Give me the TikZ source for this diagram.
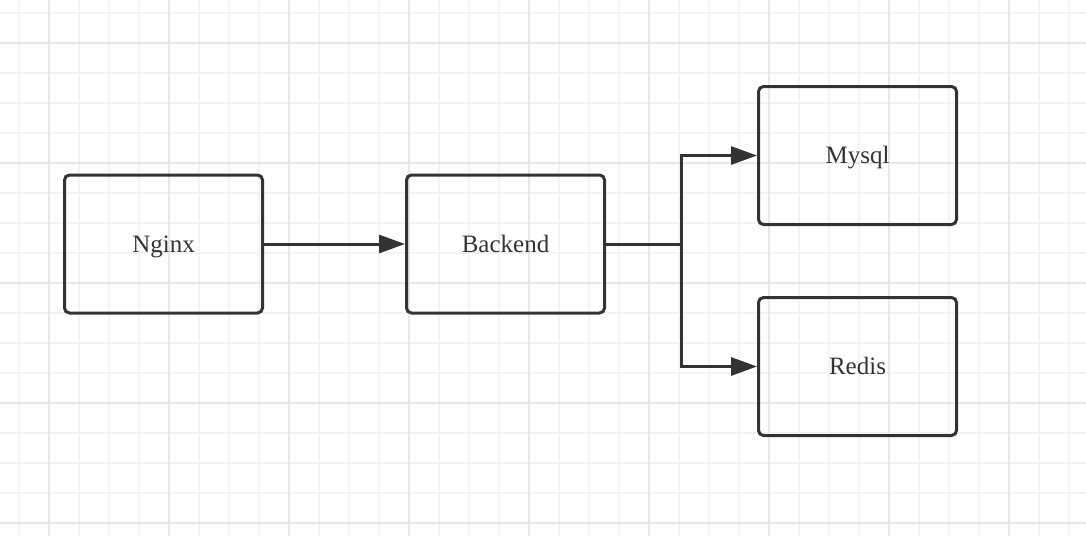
\documentclass[tikz,border=0pt]{standalone}
\usepackage{fontspec}
\setmainfont{Liberation Serif}
\usetikzlibrary{calc}
\usetikzlibrary{positioning}
\usetikzlibrary{arrows.meta}

\definecolor{ink}{HTML}{333333}
\definecolor{gridminor}{HTML}{F3F3F3}
\definecolor{gridmajor}{HTML}{E8E8E8}

\begin{document}
\begin{tikzpicture}[x=1pt, y=-1pt,
        every node/.style={draw=ink, line width=3pt, rounded corners=5pt, minimum width=198pt, minimum height=138pt, inner sep=0pt, text height=22pt, text depth=6pt, text=ink, font=\fontsize{25}{30}\selectfont},
        link/.style={draw=ink, line width=3pt, arrows={-{Triangle[length=26pt, width=18pt]}}}]
        \useasboundingbox[fill=white] (0,0) rectangle (1086,536);
        % grid
        \foreach \x in {19,49,...,1086} \draw[gridminor, line width=1.5pt] (\x,0) -- (\x,536);
        \foreach \y in {13,43,...,536} \draw[gridminor, line width=1.5pt] (0,\y) -- (1086,\y);
        \foreach \x in {49,169,...,1086} \draw[gridmajor, line width=2pt] (\x,0) -- (\x,536);
        \foreach \y in {43,163,...,536} \draw[gridmajor, line width=2pt] (0,\y) -- (1086,\y);

        \node (nginx) at (163.5,244) {Nginx};
        \node[right=141pt of nginx] (backend) {Backend};
        \node (mysql) at (857.5,155.5) {Mysql};
        \node[below=70pt of mysql] (redis) {Redis};
        \coordinate (split) at (681,244);

        \draw[link] (nginx) -- (backend);
        \draw[draw=ink, line width=3pt] (backend) -- (split);
        \draw[link] (split) |- (mysql);
        \draw[link] (split) |- (redis);
    \end{tikzpicture}
\end{document}
